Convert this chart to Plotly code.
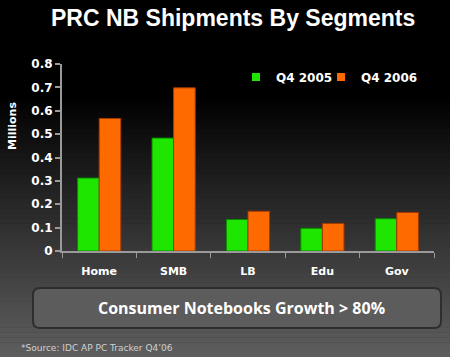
import plotly.graph_objects as go

categories = ["Home", "SMB", "LB", "Edu", "Gov"]
q4_2005 = [0.312, 0.483, 0.135, 0.097, 0.138]
q4_2006 = [0.567, 0.698, 0.170, 0.118, 0.165]
series_names = ["Q4 2005", "Q4 2006"]
series_colors = ["#1fe600", "#ff6a00"]
edge_colors = ["#0a8a00", "#a33a00"]
y_ticks = [0, 0.1, 0.2, 0.3, 0.4, 0.5, 0.6, 0.7, 0.8]
y_tick_labels = ["0", "0.1", "0.2", "0.3", "0.4", "0.5", "0.6", "0.7", "0.8"]

W, H = 450, 357
ml, mr, mt, mb = 62, 16, 64, 106
pw = W - ml - mr
ph = H - mt - mb


def px_x(x):
    return (x - ml) / pw


def px_y(y):
    return (H - mb - y) / ph


fig = go.Figure()
for name, vals, col, edge in zip(series_names, [q4_2005, q4_2006], series_colors, edge_colors):
    fig.add_trace(go.Bar(x=categories, y=vals, name=name, showlegend=False, legendgroup=name,
                         marker=dict(color=col, line=dict(color=edge, width=1))))
# legend entries with small square swatches (one legend box each)
legend_ids = ["legend", "legend2"]
for name, col, lg in zip(series_names, series_colors, legend_ids):
    fig.add_trace(go.Scatter(x=[None], y=[None], mode="markers", name=f"<b>{name}</b>",
                             legendgroup=name, legend=lg, showlegend=True,
                             marker=dict(symbol="square", size=8, color=col)))

shapes = []
# background gradient bands over full figure height (kept inside the figure)
n = 72
step = H / n
for i in range(n):
    top = i * step
    bot = min(H, (i + 1) * step + 0.6)
    mid = (top + bot) / 2
    if mid < 95:
        g = 0
    else:
        g = int(min(95, (mid - 95) / (H - 95) * 95))
    shapes.append(dict(type="rect", xref="paper", yref="paper", x0=px_x(0), x1=px_x(W),
                       y0=px_y(bot), y1=px_y(top), fillcolor=f"rgb({g},{g},{g})",
                       line=dict(width=0), layer="below"))


def rounded(x0, x1, y0, y1, r):
    return (f"M {px_x(x0 + r)},{px_y(y0)} L {px_x(x1 - r)},{px_y(y0)} "
            f"Q {px_x(x1)},{px_y(y0)} {px_x(x1)},{px_y(y0 + r)} "
            f"L {px_x(x1)},{px_y(y1 - r)} Q {px_x(x1)},{px_y(y1)} {px_x(x1 - r)},{px_y(y1)} "
            f"L {px_x(x0 + r)},{px_y(y1)} Q {px_x(x0)},{px_y(y1)} {px_x(x0)},{px_y(y1 - r)} "
            f"L {px_x(x0)},{px_y(y0 + r)} Q {px_x(x0)},{px_y(y0)} {px_x(x0 + r)},{px_y(y0)} Z")


shapes.append(dict(type="path", xref="paper", yref="paper", path=rounded(33, 441, 288, 328, 7),
                   fillcolor="#5c5c5c", line=dict(color="#2e2e2e", width=2), layer="above"))

annotations = [
    dict(text="<b>PRC NB Shipments By Segments</b>", xref="paper", yref="paper",
         x=px_x(233), y=px_y(18), xanchor="center", yanchor="middle", showarrow=False,
         font=dict(family="Liberation Sans", size=23, color="white")),
    dict(text="<b>Millions</b>", xref="paper", yref="paper", x=px_x(12), y=px_y(126),
         xanchor="center", yanchor="middle", textangle=-90, showarrow=False,
         font=dict(family="DejaVu Sans", size=11, color="white")),
    dict(text="<b>Consumer Notebooks Growth &gt; 80%</b>", xref="paper", yref="paper",
         x=px_x(241), y=px_y(308), xanchor="center", yanchor="middle", showarrow=False,
         font=dict(family="Open Sans", size=16, color="white")),
    dict(text="*Source: IDC AP PC Tracker Q4\u201906", xref="paper", yref="paper",
         x=px_x(19), y=px_y(348), xanchor="left", yanchor="middle", showarrow=False,
         font=dict(family="DejaVu Sans", size=9, color="#d0d0d0")),
]

legend_style = dict(orientation="h", yanchor="middle", xanchor="left", y=px_y(77),
                    bgcolor="rgba(0,0,0,0)", itemwidth=30,
                    font=dict(family="DejaVu Sans", size=12, color="white"))

fig.update_layout(
    width=W, height=H,
    margin=dict(l=ml, r=mr, t=mt, b=mb, autoexpand=False),
    paper_bgcolor="black", plot_bgcolor="rgba(0,0,0,0)",
    barmode="group", bargap=0.42, bargroupgap=0,
    shapes=shapes, annotations=annotations,
    legend=dict(x=px_x(236), **legend_style),
    legend2=dict(x=px_x(321), **legend_style),
    showlegend=True,
    xaxis=dict(showline=True, linecolor="#9a9a9a", linewidth=2, ticks="outside",
               tickson="boundaries", ticklen=5, tickcolor="#9a9a9a", tickwidth=1,
               showgrid=False, zeroline=False,
               tickvals=categories, ticktext=[f"<b>{c}</b>" for c in categories],
               tickfont=dict(family="DejaVu Sans", size=11, color="white"),
               ticklabelstandoff=9),
    yaxis=dict(range=[0, 0.8], tickvals=y_ticks, ticktext=[f"<b>{t}</b>" for t in y_tick_labels],
               showline=True, linecolor="#9a9a9a", linewidth=2, ticks="outside",
               ticklen=5, tickcolor="#9a9a9a", tickwidth=2, showgrid=False, zeroline=False,
               tickfont=dict(family="DejaVu Sans", size=12, color="white")),
)

fig.write_html("out.html", config={"displayModeBar": False},
               post_script="document.body.style.margin='0';document.body.style.overflow='hidden';")
